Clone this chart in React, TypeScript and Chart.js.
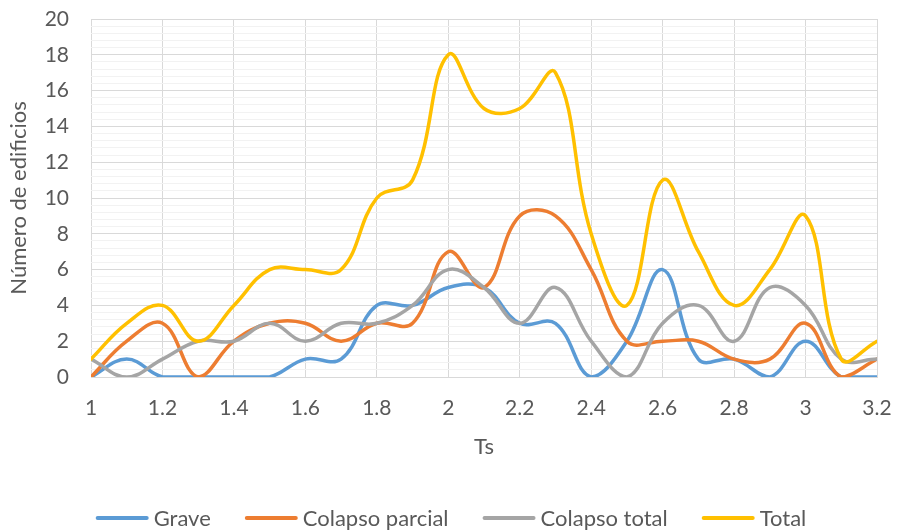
import React, { useEffect, useRef } from "react";
import { Chart, registerables } from "chart.js";

Chart.register(...registerables);

const ts = [1.0, 1.1, 1.2, 1.3, 1.4, 1.5, 1.6, 1.7, 1.8, 1.9, 2.0, 2.1, 2.2, 2.3, 2.4, 2.5, 2.6, 2.7, 2.8, 2.9, 3.0, 3.1, 3.2];
const grave = [0, 1, 0, 0, 0, 0, 1, 1, 4, 4, 5, 5, 3, 3, 0, 2, 6, 1, 1, 0, 2, 0, 0];
const colapsoParcial = [0, 2, 3, 0, 2, 3, 3, 2, 3, 3, 7, 5, 9, 9, 6, 2, 2, 2, 1, 1, 3, 0, 1];
const colapsoTotal = [1, 0, 1, 2, 2, 3, 2, 3, 3, 4, 6, 5, 3, 5, 2, 0, 3, 4, 2, 5, 4, 1, 1];
const total = [1, 3, 4, 2, 4, 6, 6, 6, 10, 11, 18, 15, 15, 17, 8, 4, 11, 7, 4, 6, 9, 1, 2];

const seriesNames = ["Grave", "Colapso parcial", "Colapso total", "Total"];
const seriesColors = ["#5B9BD5", "#ED7D31", "#A5A5A5", "#FFC000"];
const yTitle = "Número de edificios";
const xTitle = "Ts";

const FONT = "Lato, 'Open Sans', sans-serif";
const TEXT = "#595959";

// Excel-style legend row: line marker, small gap, label, wider gap between entries
const bottomLegend = {
  id: "bottomLegend",
  afterDraw(chart: any) {
    const ctx = chart.ctx;
    const lineW = 53;
    const lineH = 4;
    const gapText = 5;
    const gapItem = 34;
    const y = 518;
    ctx.save();
    ctx.font = `22px ${FONT}`;
    ctx.textBaseline = "middle";
    ctx.textAlign = "left";
    const ds = chart.data.datasets;
    const widths = ds.map((d: any) => lineW + gapText + ctx.measureText(d.label).width);
    const totalW = widths.reduce((a: number, b: number) => a + b, 0) + gapItem * (ds.length - 1);
    let x = chart.width / 2 - totalW / 2;
    ds.forEach((d: any, i: number) => {
      ctx.strokeStyle = d.borderColor;
      ctx.lineWidth = lineH;
      ctx.lineCap = "round";
      ctx.beginPath();
      ctx.moveTo(x + 2, y);
      ctx.lineTo(x + lineW - 2, y);
      ctx.stroke();
      ctx.fillStyle = TEXT;
      ctx.fillText(d.label, x + lineW + gapText, y + 1);
      x += widths[i] + gapItem;
    });
    ctx.restore();
  },
};

export default function App() {
  const ref = useRef<HTMLCanvasElement | null>(null);
  useEffect(() => {
    if (!ref.current) return;
    const all = [grave, colapsoParcial, colapsoTotal, total];
    const chart = new Chart(ref.current, {
      type: "line",
      data: {
        datasets: all.map((vals, i) => ({
          label: seriesNames[i],
          data: vals.map((v, j) => ({ x: ts[j], y: v })),
          borderColor: seriesColors[i],
          backgroundColor: seriesColors[i],
          borderWidth: 3.5,
          pointRadius: 0,
          tension: 0.4,
          order: 3 - i,
          borderCapStyle: "round" as const,
          borderJoinStyle: "round" as const,
        })),
      },
      plugins: [bottomLegend],
      options: {
        responsive: false,
        animation: false,
        devicePixelRatio: 1,
        layout: { padding: { left: 0, right: 25, top: 19, bottom: 0 } },
        plugins: {
          tooltip: { enabled: false },
          legend: { display: false },
        },
        scales: {
          x: {
            type: "linear",
            min: 1,
            max: 3.2,
            afterFit: (s: any) => {
              s.height = 154;
              s.paddingLeft = 0;
              s.paddingRight = 0;
            },
            ticks: {
              stepSize: 0.2,
              color: TEXT,
              padding: 19,
              font: { family: FONT, size: 21 },
              callback: (v: any) => String(Math.round(Number(v) * 10) / 10),
            },
            grid: { color: "#D9D9D9", lineWidth: 1, drawTicks: false },
            border: { display: true, color: "#D9D9D9" },
            title: {
              display: true,
              text: xTitle,
              color: TEXT,
              font: { family: FONT, size: 22 },
              padding: { top: 0, bottom: 71 },
            },
          },
          y: {
            min: 0,
            max: 20,
            afterFit: (s: any) => {
              s.width = 91;
              s.paddingTop = 0;
              s.paddingBottom = 0;
            },
            ticks: {
              stepSize: 0.4,
              autoSkip: false,
              color: TEXT,
              padding: 22,
              font: { family: FONT, size: 21 },
              callback: (v: any) => {
                const n = Number(v);
                const r = Math.round(n / 2) * 2;
                return Math.abs(n - r) < 1e-6 ? String(r) : "";
              },
            },
            grid: {
              drawTicks: false,
              color: (ctx: any) => {
                const n = ctx.tick ? ctx.tick.value : 0;
                const r = Math.round(n / 2) * 2;
                return Math.abs(n - r) < 1e-6 ? "#D9D9D9" : "#F2F2F2";
              },
            },
            border: { display: false },
            title: {
              display: true,
              text: yTitle,
              color: TEXT,
              font: { family: FONT, size: 22 },
              padding: { top: 6, bottom: 0 },
            },
          },
        },
      },
    });
    return () => chart.destroy();
  }, []);
  return (
    <div style={{ position: "absolute", left: 0, top: 0, width: 902, height: 531, background: "#fff" }}>
      <canvas ref={ref} width={902} height={531} />
    </div>
  );
}
